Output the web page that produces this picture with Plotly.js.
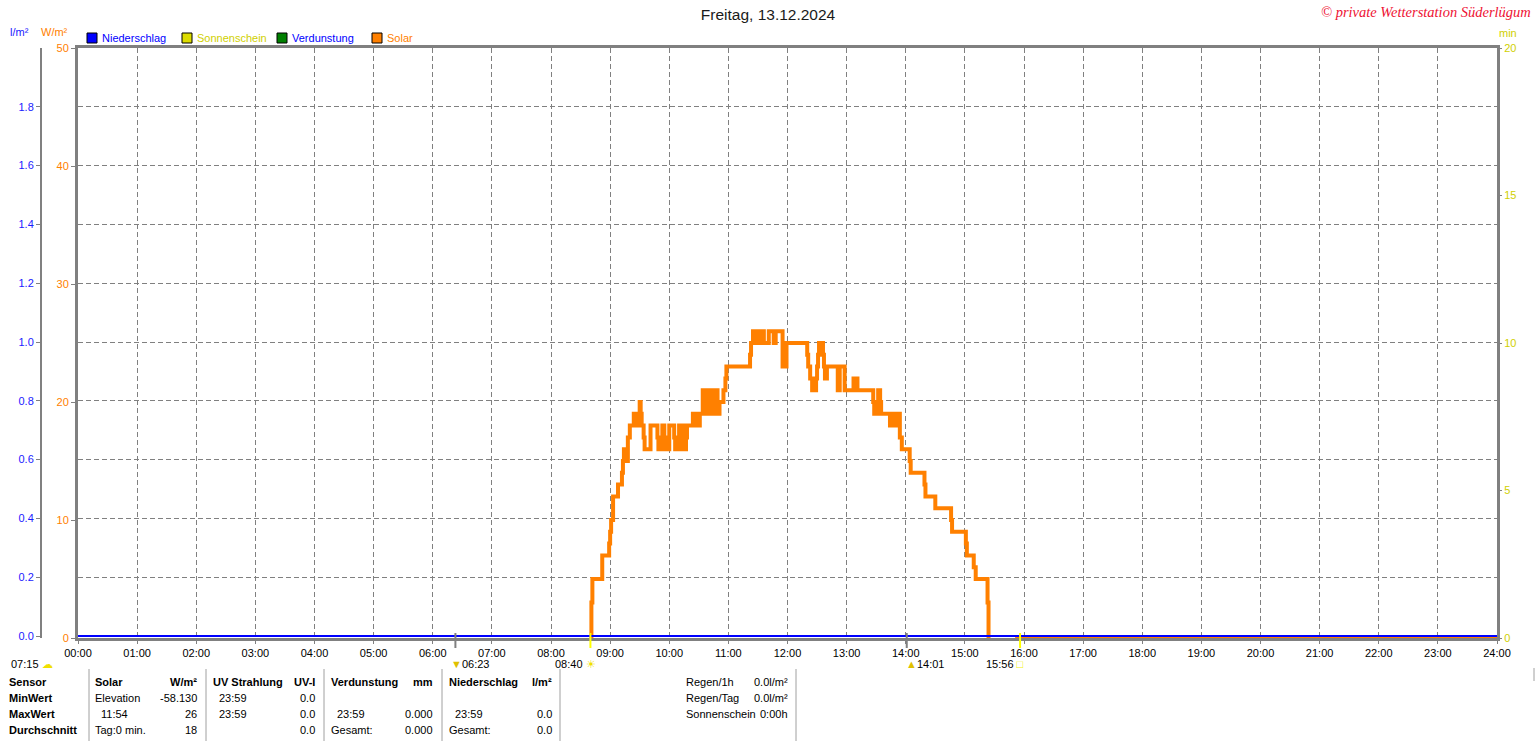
<!DOCTYPE html>
<html><head><meta charset="utf-8">
<script src="https://cdn.plot.ly/plotly-3.0.1.min.js"></script>
<style>html,body{margin:0;padding:0;background:#fff;overflow:hidden}#chart{width:1536px;height:741px}</style>
</head><body><div id="chart"></div>
<script>
// ---------- data ----------
const chartTitle = "Freitag, 13.12.2024";
const copyright = "© private Wetterstation Süderlügum";
const hourLabels = ["00:00","01:00","02:00","03:00","04:00","05:00","06:00","07:00","08:00","09:00","10:00","11:00","12:00","13:00","14:00","15:00","16:00","17:00","18:00","19:00","20:00","21:00","22:00","23:00","24:00"];
const wTicks = [0,10,20,30,40,50];
const lTicks = [0,0.2,0.4,0.6,0.8,1.0,1.2,1.4,1.6,1.8];
const minTicks = [0,5,10,15,20];

const solarTimes = ["08:40","08:41","08:42","08:52","08:59","09:00","09:01","09:03","09:08","09:12","09:13","09:14","09:15","09:16","09:17","09:18","09:20","09:24","09:25","09:26","09:28","09:29","09:30","09:31","09:32","09:34","09:35","09:41","09:48","09:49","09:52","09:53","09:55","09:56","10:00","10:05","10:06","10:10","10:14","10:17","10:18","10:24","10:28","10:31","10:34","10:37","10:38","10:41","10:42","10:45","10:46","10:49","10:51","10:55","10:57","10:58","11:22","11:23","11:25","11:29","11:32","11:36","11:41","11:46","11:48","11:55","11:56","11:57","11:59","12:20","12:21","12:23","12:25","12:29","12:30","12:31","12:32","12:36","12:37","12:38","12:40","12:51","12:53","12:58","13:07","13:11","13:27","13:28","13:31","13:32","13:34","13:35","13:44","13:47","13:49","13:50","13:52","13:53","13:54","13:56","14:04","14:05","14:19","14:20","14:30","14:46","14:47","15:01","15:02","15:09","15:11","15:23","15:24","15:25","15:51","24:00"];
const solarValues = [0,3,5,7,8,9,10,12,13,14,15,16,15,16,15,17,18,19,18,19,18,19,20,19,18,17,16,18,17,16,17,18,17,16,18,17,16,18,16,17,18,19,18,19,21,19,21,19,21,19,21,19,20,21,22,23,24,25,26,25,26,25,26,25,26,23,24,23,25,24,23,22,21,22,23,24,25,24,23,22,23,21,23,21,22,21,20,19,20,21,20,19,18,19,18,19,18,19,17,16,15,14,13,12,11,10,9,8,7,6,5,3,0,null,0,0];

const niederschlagTimes = ["00:00","24:00"];
const niederschlagValues = [0,0];

const sunrise = "08:40", sunset = "15:56", moonrise = "06:23", moonset = "14:01", dayLength = "07:15";

const legendNames = ["Niederschlag","Sonnenschein","Verdunstung","Solar"];
const legendSquareColors = ["#0000ff","#dcdc00","#008000","#ff8000"];
const legendTextColors = ["#0000ff","#d0d000","#0000ff","#ff8000"];

const rowLabels = ["Sensor","MinWert","MaxWert","Durchschnitt"];
const solarHead = ["Solar","W/m²"];
const solarRows = [["Elevation","-58.130"],["11:54","26"],["Tag:0 min.","18"]];
const uvHead = ["UV Strahlung","UV-I"];
const uvRows = [["23:59","0.0"],["23:59","0.0"],["","0.0"]];
const verdHead = ["Verdunstung","mm"];
const verdRows = [["",""],["23:59","0.000"],["Gesamt:","0.000"]];
const niedHead = ["Niederschlag","l/m²"];
const niedRows = [["",""],["23:59","0.0"],["Gesamt:","0.0"]];
const extraRows = [["Regen/1h","0.0l/m²"],["Regen/Tag","0.0l/m²"],["Sonnenschein","0:00h"]];

// ---------- helpers ----------
const toH = t => t === null ? null : (+t.slice(0,2)) + (+t.slice(3))/60;
const W = 1536, H = 741, L = 40, R = 39, T = 48, B = 103;
const PW = W - L - R, PH = H - T - B;
const px = x => (x - L) / PW;
const py = y => (H - B - y) / PH;
const FONT = "Liberation Sans, Arial, sans-serif";
const GRID = "#808080";

const annotations = [];
const shapes = [];
function txt(x, y, text, opt) {
  opt = opt || {};
  annotations.push({xref:'paper', yref:'paper', x:px(x), y:py(y), text:text, showarrow:false,
    xanchor:opt.anchor || 'left', yanchor:'middle', borderpad:0,
    font:{family:opt.family || FONT, size:opt.size || 11, color:opt.color || '#000'}});
}

// header labels
txt(30, 32, "l/m²", {anchor:'right', color:'#1a1aff'});
txt(40, 32, "W/m²", {color:'#ff8000'});
txt(1498, 33, "min", {color:'#d0d000'});
// copyright
txt(1532, 12, "<i>" + copyright + "</i>", {anchor:'right', color:'#ee1133', size:14.5, family:'Liberation Serif, serif'});

// legend
const legX = [87, 182, 277, 372];
legendNames.forEach((n, i) => {
  shapes.push({type:'rect', xref:'paper', yref:'paper', x0:px(legX[i]), x1:px(legX[i]+10), y0:py(43), y1:py(33),
    fillcolor:legendSquareColors[i], line:{color:'#000', width:1}});
  txt(legX[i] + 14, 38, n, {color:legendTextColors[i]});
});

// event ticks below the axis
[[sunrise,'#ffff00'],[sunset,'#ffff00'],[moonrise,'#808080'],[moonset,'#808080']].forEach(([t,c]) => {
  shapes.push({type:'line', xref:'x', yref:'paper', x0:toH(t), x1:toH(t), y0:py(633), y1:py(648), line:{color:c, width:2}});
});
function evt(t, text, anchor, shift) {
  annotations.push({xref:'x', yref:'paper', x:toH(t), y:py(664), xshift:shift, text:text, showarrow:false,
    xanchor:anchor, yanchor:'middle', borderpad:0, font:{family:FONT, size:11, color:'#000'}});
}
evt(sunrise, sunrise + " <span style='color:#f0e000'>☀</span>", 'right', 7);
evt(sunset, sunset + " <span style='color:#f0f000'>□</span>", 'right', 5);
evt(moonrise, "<span style='color:#e0c000'>▼</span>" + moonrise, 'left', -5);
evt(moonset, "<span style='color:#e0c000'>▲</span>" + moonset, 'left', -2);
txt(10, 664, dayLength + " <span style='color:#f0e000'>☁</span>");

// table
const rowY = [682, 698, 714, 730];
rowLabels.forEach((r, i) => txt(8, rowY[i], "<b>" + r + "</b>"));
const cols = [[solarHead, solarRows, 94, 198], [uvHead, uvRows, 212, 316], [verdHead, verdRows, 330, 434], [niedHead, niedRows, 448, 553]];
cols.forEach(([head, rows, xl, xr]) => {
  txt(xl, rowY[0], "<b>" + head[0] + "</b>");
  txt(xr, rowY[0], "<b>" + head[1] + "</b>", {anchor:'right'});
  rows.forEach((r, i) => {
    const indent = /^\d\d:\d\d$/.test(r[0]) ? 6 : 0;
    if (r[0]) txt(xl + indent, rowY[i+1], r[0]);
    if (r[1]) txt(xr, rowY[i+1], r[1], {anchor:'right'});
  });
});
extraRows.forEach((r, i) => {
  txt(685, rowY[i], r[0]);
  txt(789, rowY[i], r[1], {anchor:'right'});
});
[89, 206, 324, 442, 560, 796].forEach(x => {
  shapes.push({type:'line', xref:'paper', yref:'paper', x0:px(x), x1:px(x), y0:py(669), y1:py(741), line:{color:'#a0a0a0', width:1}});
});
shapes.push({type:'line', xref:'paper', yref:'paper', x0:px(1534), x1:px(1534), y0:py(668), y1:py(681), line:{color:'#a0a0a0', width:1}});

// ---------- traces ----------
const traces = [
  {x: solarTimes.map(toH), y: solarValues, yaxis:'y', type:'scatter', mode:'lines', connectgaps:false,
   line:{color:'#ff8000', width:4, shape:'hv'}, hoverinfo:'skip'},
  {x: niederschlagTimes.map(toH), y: niederschlagValues, yaxis:'y2', type:'scatter', mode:'lines',
   line:{color:'#0000ff', width:2}, hoverinfo:'skip'}
];

const tickStyle = {ticks:'outside', ticklen:4, tickcolor:GRID, tickwidth:1};
const layout = {
  width: W, height: H,
  margin: {l:L, r:R, t:T, b:B, pad:0},
  paper_bgcolor:'#fff', plot_bgcolor:'#fff',
  showlegend:false,
  font:{family:FONT, size:11, color:'#000'},
  title:{text:chartTitle, x:0.5, xref:'container', xanchor:'center', y:1 - 15/H, yref:'container', yanchor:'middle',
    font:{family:FONT, size:15.5, color:'#1a1a1a'}},
  xaxis:{domain:[px(78), 1], range:[0,24], tickvals:hourLabels.map(toH), ticktext:hourLabels,
    showgrid:true, gridcolor:GRID, griddash:'5px,3px', gridwidth:1, zeroline:false, layer:'below traces',
    showline:true, linecolor:GRID, linewidth:3, mirror:true, ...tickStyle, ticklen:3,
    tickfont:{size:11, color:'#000'}, fixedrange:true},
  yaxis:{range:[0,50], tickvals:wTicks, ticktext:wTicks.map(String), showgrid:false, zeroline:false,
    showline:true, linecolor:GRID, linewidth:3, mirror:true, ...tickStyle,
    tickfont:{size:11, color:'#ff8000'}, fixedrange:true},
  yaxis2:{overlaying:'y', anchor:'free', position:0, side:'left', range:[-0.0068,2], tickvals:lTicks,
    ticktext:lTicks.map(v => v.toFixed(1)), showgrid:true, gridcolor:GRID, griddash:'5px,3px', gridwidth:1,
    zeroline:false, showline:true, linecolor:GRID, linewidth:1.5, ...tickStyle,
    tickfont:{size:11, color:'#1a1aff'}, fixedrange:true},
  yaxis3:{overlaying:'y', anchor:'x', side:'right', range:[0,20], tickvals:minTicks, ticktext:minTicks.map(String),
    showgrid:false, zeroline:false, showline:false, ...tickStyle,
    tickfont:{size:11, color:'#d0d000'}, fixedrange:true},
  annotations: annotations,
  shapes: shapes
};
// dummy trace so the right axis is drawn
traces.push({x:[null], y:[null], yaxis:'y3', type:'scatter', mode:'lines', hoverinfo:'skip'});

Plotly.newPlot('chart', traces, layout, {staticPlot:true, displayModeBar:false});
</script></body></html>
